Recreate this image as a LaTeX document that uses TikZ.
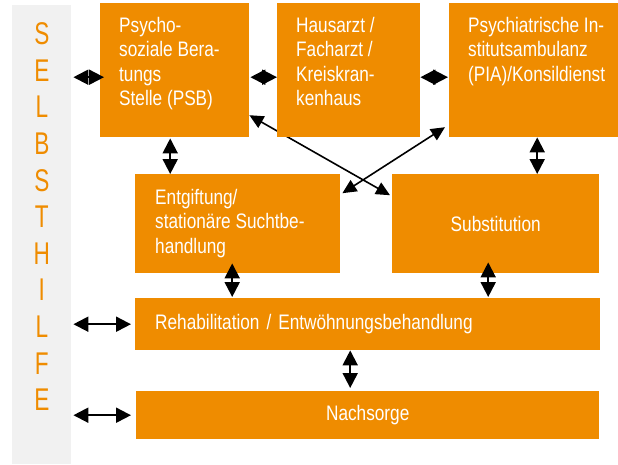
\documentclass[tikz,border=0pt]{standalone}
\usepackage{fontspec}
\setmainfont{Liberation Sans}[FakeStretch=0.82]
\newfontfamily\barfont{Liberation Sans}[FakeStretch=0.72]
\usetikzlibrary{arrows.meta,calc,backgrounds}
\definecolor{orng}{RGB}{239,140,0}
\definecolor{barg}{RGB}{241,241,241}
\newcommand\boxtext[3]{\parbox[t][#1][t]{#2}{\raggedright #3}}
\tikzset{
  box/.style={fill=orng, text=white, draw=none, anchor=north west, inner sep=0pt,
              font=\fontsize{21}{24.4}\selectfont},
  tlbox/.style={box, inner xsep=19pt, inner ysep=14pt},
  dbl/.style={{Triangle[length=15pt,width=15pt]}-{Triangle[length=15pt,width=15pt]}, line width=2pt, black},
  diag/.style={{Triangle[length=14pt,width=13pt]}-{Triangle[length=14pt,width=13pt]}, line width=1.6pt, black},
}
\begin{document}
\begin{tikzpicture}[x=1pt,y=-1pt]
\useasboundingbox (0,0) rectangle (618,464);
% Selbsthilfe bar
\node[fill=barg, anchor=north west, minimum width=59pt, minimum height=459pt, inner sep=0pt] (bar) at (12,5) {};
\node[text=orng, inner sep=0pt, align=center, font=\barfont\fontsize{31.4}{36.6}\selectfont] (sh) at (41.8,216.7)
  {S\\E\\L\\B\\S\\T\\H\\I\\L\\F\\E};
% top row
\node[tlbox, minimum width=149pt, minimum height=134pt] (psb) at (100,3)
  {\boxtext{106pt}{111pt}{Psycho-\\soziale Bera-\\tungs\\Stelle (PSB)}};
\node[tlbox, minimum width=143pt, minimum height=134pt] (haus) at (277,3)
  {\boxtext{106pt}{105pt}{Hausarzt /\\Facharzt /\\Kreiskran-\\kenhaus}};
\node[tlbox, minimum width=190pt, minimum height=134pt] (pia) at (449,3)
  {\boxtext{106pt}{152pt}{Psychiatrische In-\\stitutsambulanz\\(PIA)/Konsildienst}};
% middle row
\node[box, inner xsep=20pt, inner ysep=15pt, minimum width=205pt, minimum height=99pt] (ent) at (135,174)
  {\boxtext{69pt}{165pt}{Entgiftung/\\stationäre Suchtbe-\\handlung}};
\node[box, minimum width=207pt, minimum height=99pt] (sub) at (392,174) {Substitution};
% lower rows
\node[box, minimum width=465pt, minimum height=52pt, text width=425pt, inner xsep=20pt, align=left] (reh) at (135,298)
  {Rehabilitation / Entwöhnungsbehandlung};
\node[box, minimum width=463pt, minimum height=48pt] (nach) at (136,391) {Nachsorge};
% diagonal connectors behind boxes
\begin{pgfonlayer}{background}
\draw[diag] ($(psb.east)+(0,45)$) -- ($(sub.west)+(-2,-28.5)$);
\draw[diag] ($(pia.west)+(-4,57)$) -- ($(ent.east)+(2,-30.5)$);
\end{pgfonlayer}
% horizontal connectors
\draw[dbl] ($(bar.east|-psb.west)+(2,7)$) -- ($(psb.west)+(4,7)$);
\draw[dbl] ($(psb.east)+(1,7)$) -- ($(haus.west)+(0,7)$);
\draw[dbl] ($(haus.east)+(0,7)$) -- ($(pia.west)+(-1,7)$);
\draw[dbl] ($(bar.east|-reh.west)+(2,0)$) -- ($(reh.west)+(-4,0)$);
\draw[dbl] ($(bar.east|-nach.west)+(2,0)$) -- ($(nach.west)+(-5,0)$);
% vertical connectors
\draw[dbl] ($(psb.south)+(-4.5,1)$) -- ($(ent.north)+(-67.5,0)$);
\draw[dbl] ($(pia.south)+(-7,0)$) -- ($(sub.north)+(41.5,0)$);
\draw[dbl] ($(ent.south)+(-5.5,-10)$) -- ($(reh.north)+(-135.5,-1)$);
\draw[dbl] ($(sub.south)+(-7.5,-11)$) -- ($(reh.north)+(120.5,-1)$);
\draw[dbl] ($(reh.south)+(-17.5,0)$) -- ($(nach.north)+(-17.5,-3)$);
\end{tikzpicture}
\end{document}
